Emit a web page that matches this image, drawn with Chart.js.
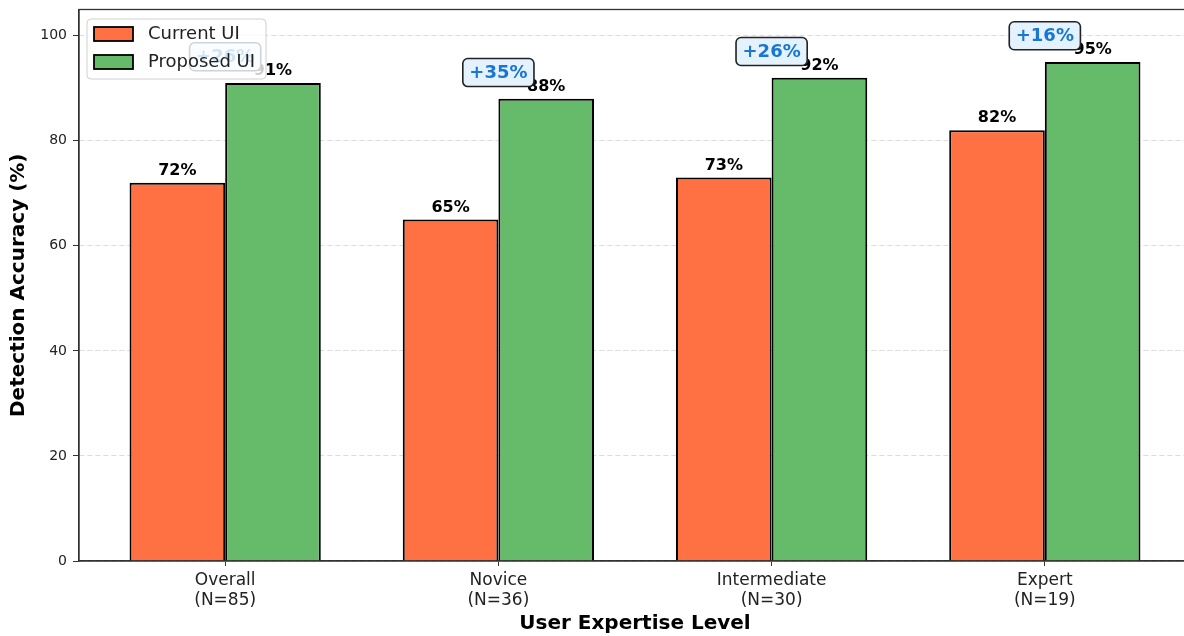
<!DOCTYPE html>
<html lang="en">
<head>
<meta charset="UTF-8">
<title>Detection Accuracy by User Expertise</title>
<script src="https://cdn.jsdelivr.net/npm/chart.js"></script>
<style>
  html, body { margin: 0; padding: 0; background: #fff; overflow: hidden; }
  /* the reference is cropped a few pixels before the right spine */
  #wrap { width: 1184px; height: 636px; overflow: hidden; }
</style>
</head>
<body>
<div id="wrap"><canvas id="myChart" width="1192" height="636"></canvas></div>
<script>
// data
const categories = [['Overall', '(N=85)'], ['Novice', '(N=36)'], ['Intermediate', '(N=30)'], ['Expert', '(N=19)']];
const currentUI = [72, 65, 73, 82];
const proposedUI = [91, 88, 92, 95];
const improvements = ['+26%', '+35%', '+26%', '+16%'];
const yTicks = [0, 20, 40, 60, 80, 100];

const FONT = "'DejaVu Sans', sans-serif";
const ORANGE = '#FF7043';
const GREEN = '#66BB6A';

// value labels, improvement badges, frame and legend
const overlay = {
    id: 'overlay',
    afterDatasetsDraw(chart) {
        const ctx = chart.ctx;
        const y = chart.scales.y;
        ctx.save();
        ctx.font = 'bold 16px ' + FONT;
        ctx.fillStyle = '#000';
        ctx.textAlign = 'center';
        ctx.textBaseline = 'alphabetic';
        chart.data.datasets.forEach((ds, i) => {
            chart.getDatasetMeta(i).data.forEach((bar, j) => {
                const v = ds.data[j].y;
                ctx.fillText(v + '%', bar.x, y.getPixelForValue(v + 1.5));
            });
        });

        // improvement badges above each group
        ctx.font = 'bold 18px ' + FONT;
        ctx.textBaseline = 'middle';
        const m0 = chart.getDatasetMeta(0).data;
        const m1 = chart.getDatasetMeta(1).data;
        m0.forEach((bar, j) => {
            const cx = (bar.x + m1[j].x) / 2;
            const cy = y.getPixelForValue(Math.max(currentUI[j], proposedUI[j]) + 5);
            const w = ctx.measureText(improvements[j]).width + 13;
            const h = 28;
            ctx.beginPath();
            ctx.roundRect(cx - w / 2, cy - h / 2, w, h, 5);
            ctx.fillStyle = '#E3F2FD';
            ctx.fill();
            ctx.lineWidth = 1.6;
            ctx.strokeStyle = '#222';
            ctx.stroke();
            ctx.fillStyle = '#1976D2';
            ctx.fillText(improvements[j], cx, cy + 1);
        });
        ctx.restore();
    },
    afterDraw(chart) {
        const ctx = chart.ctx;
        const a = chart.chartArea;
        ctx.save();
        // frame (top and right spines)
        ctx.strokeStyle = '#333';
        ctx.lineWidth = 1.3;
        ctx.strokeRect(a.left, a.top, a.right - a.left, a.bottom - a.top);

        // legend box in the upper left
        const lx = a.left + 8, ly = a.top + 9.5, lw = 179, lh = 60;
        ctx.beginPath();
        ctx.roundRect(lx, ly, lw, lh, 4);
        ctx.fillStyle = 'rgba(255,255,255,0.8)';
        ctx.fill();
        ctx.strokeStyle = '#d0d0d0';
        ctx.lineWidth = 1;
        ctx.stroke();
        const items = [[chart.data.datasets[0].label, ORANGE], [chart.data.datasets[1].label, GREEN]];
        ctx.font = '18px ' + FONT;
        ctx.textBaseline = 'middle';
        ctx.textAlign = 'left';
        items.forEach((it, k) => {
            const cy = ly + 15 + k * 28;
            ctx.fillStyle = it[1];
            ctx.fillRect(lx + 7, cy - 7, 39, 14);
            ctx.strokeStyle = '#000';
            ctx.lineWidth = 1.8;
            ctx.strokeRect(lx + 7, cy - 7, 39, 14);
            ctx.fillStyle = '#222';
            ctx.fillText(it[0], lx + 61, cy);
        });
        ctx.restore();
    }
};

const toPoints = arr => arr.map((v, i) => ({ x: i, y: v }));

const ctx = document.getElementById('myChart').getContext('2d');
const myChart = new Chart(ctx, {
    type: 'bar',
    data: {
        datasets: [{
            label: 'Current UI',
            data: toPoints(currentUI),
            backgroundColor: ORANGE,
            borderColor: '#000',
            borderWidth: 2,
            categoryPercentage: 0.7,
            barPercentage: 1.0
        }, {
            label: 'Proposed UI',
            data: toPoints(proposedUI),
            backgroundColor: GREEN,
            borderColor: '#000',
            borderWidth: 2,
            categoryPercentage: 0.7,
            barPercentage: 1.0
        }]
    },
    options: {
        responsive: false,
        animation: false,
        layout: { padding: { top: 9.5, right: 1, left: 0, bottom: 0 } },
        plugins: {
            legend: { display: false },
            tooltip: { enabled: false }
        },
        scales: {
            x: {
                type: 'linear',
                offset: false,
                min: -0.535,
                max: 3.535,
                afterBuildTicks(scale) { scale.ticks = categories.map((c, i) => ({ value: i })); },
                grid: { display: true, offset: false, drawOnChartArea: false, tickLength: 5, tickColor: '#333' },
                border: { color: '#333', width: 1.3 },
                ticks: {
                    color: '#222',
                    font: { family: FONT, size: 17 },
                    padding: 4,
                    maxRotation: 0,
                    callback: v => categories[v]
                },
                title: { display: true, text: 'User Expertise Level', color: '#000', font: { family: FONT, size: 20, weight: 'bold' }, padding: { top: 0, bottom: 0 } },
                afterFit(scale) {
                    scale.height = 75;
                    scale.paddingLeft = 0;
                    scale.paddingRight = 0;
                }
            },
            y: {
                min: 0,
                max: 105,
                afterBuildTicks(scale) { scale.ticks = yTicks.map(v => ({ value: v })); },
                grid: { color: '#dcdcdc', tickLength: 6, tickColor: '#333', tickBorderDash: [] },
                border: { color: '#333', width: 1.3, dash: [5, 3] },
                ticks: { color: '#222', font: { family: FONT, size: 14 }, padding: 6 },
                title: { display: true, text: 'Detection Accuracy (%)', color: '#000', font: { family: FONT, size: 20, weight: 'bold' }, padding: { top: 7, bottom: 0 } },
                afterFit(scale) {
                    scale.width = 79;
                    scale.paddingTop = 0;
                    scale.paddingBottom = 0;
                }
            }
        }
    },
    plugins: [overlay]
});
</script>
</body>
</html>
